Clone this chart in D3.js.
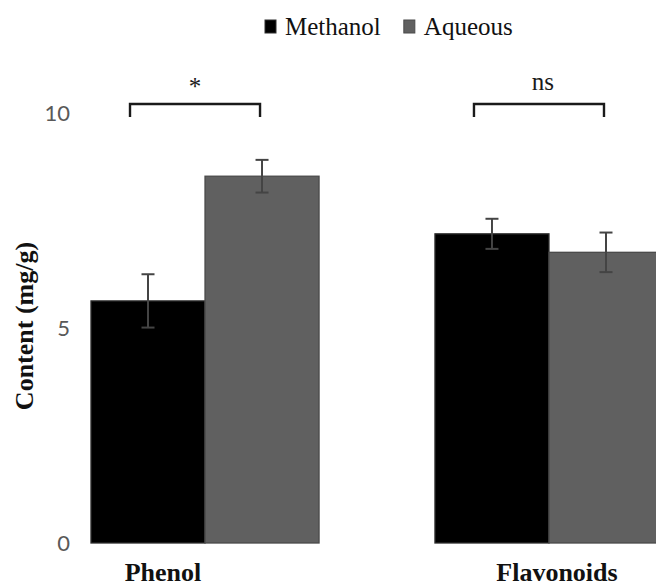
<!DOCTYPE html>
<html>
<head>
<meta charset="utf-8">
<script src="https://cdn.jsdelivr.net/npm/d3@7"></script>
<style>
  html, body { margin: 0; padding: 0; background: #fff; }
  svg { display: block; }
</style>
</head>
<body>
<svg id="chart" width="656" height="587"></svg>
<script>
// Extract content by solvent (mean and standard error)
const categories = ["Phenol", "Flavonoids"];
const seriesNames = ["Methanol", "Aqueous"];
const methanolValues = [5.63, 7.19];
const aqueousValues = [8.53, 6.76];
const methanolErrors = [0.62, 0.35];
const aqueousErrors = [0.38, 0.46];
const significance = ["*", "ns"];
const yTicks = [0, 5, 10];
const yTitle = "Content (mg/g)";

const serif = "'Liberation Serif', 'Times New Roman', serif";
const colors = { Methanol: "#000000", Aqueous: "#606060" };
const outlines = { Methanol: "#2e2e2e", Aqueous: "#4a4a4a" };

const svg = d3.select("#chart");

const y = d3.scaleLinear().domain([0, 10]).range([543, 113]);
const x0 = d3.scaleBand().domain(categories).range([33, 721])
  .paddingInner(0.337).paddingOuter(0.1686);
const x1 = d3.scaleBand().domain(seriesNames).range([0, x0.bandwidth()]);

const rows = categories.map((c, i) => ({
  category: c,
  sig: significance[i],
  bars: [
    { series: "Methanol", value: methanolValues[i], err: methanolErrors[i] },
    { series: "Aqueous", value: aqueousValues[i], err: aqueousErrors[i] }
  ]
}));

// Y axis: labels only, no line or tick marks
const yAxis = svg.append("g")
  .attr("transform", "translate(73,0)")
  .call(d3.axisLeft(y).tickValues(yTicks).tickSize(0).tickPadding(3));
yAxis.select(".domain").remove();
yAxis.selectAll("text")
  .attr("font-family", "Lato, 'Open Sans', sans-serif")
  .attr("font-size", 22)
  .attr("fill", "#595959");

svg.append("text")
  .attr("transform", "translate(33,326) rotate(-90)")
  .attr("text-anchor", "middle")
  .attr("font-family", serif)
  .attr("font-weight", "bold")
  .attr("font-size", 26)
  .attr("fill", "#111")
  .text(yTitle);

// Grouped bars
const groups = svg.selectAll("g.group").data(rows).join("g")
  .attr("class", "group")
  .attr("transform", d => `translate(${x0(d.category)},0)`);

groups.selectAll("rect").data(d => d.bars).join("rect")
  .attr("x", d => x1(d.series))
  .attr("y", d => y(d.value))
  .attr("width", x1.bandwidth())
  .attr("height", d => y(0) - y(d.value))
  .attr("fill", d => colors[d.series])
  .attr("stroke", d => outlines[d.series])
  .attr("stroke-width", 1.3);

// Error bars
const capHalf = 6.5;
const eb = groups.selectAll("g.err").data(d => d.bars).join("g").attr("class", "err")
  .attr("stroke", "#444")
  .attr("stroke-width", 2);
eb.append("line")
  .attr("x1", d => x1(d.series) + x1.bandwidth() / 2)
  .attr("x2", d => x1(d.series) + x1.bandwidth() / 2)
  .attr("y1", d => y(d.value + d.err))
  .attr("y2", d => y(d.value - d.err));
eb.append("line")
  .attr("x1", d => x1(d.series) + x1.bandwidth() / 2 - capHalf)
  .attr("x2", d => x1(d.series) + x1.bandwidth() / 2 + capHalf)
  .attr("y1", d => y(d.value + d.err))
  .attr("y2", d => y(d.value + d.err));
eb.append("line")
  .attr("x1", d => x1(d.series) + x1.bandwidth() / 2 - capHalf)
  .attr("x2", d => x1(d.series) + x1.bandwidth() / 2 + capHalf)
  .attr("y1", d => y(d.value - d.err))
  .attr("y2", d => y(d.value - d.err));

// Significance brackets above each pair
const bracketTop = y(10) - 9;
const bracketDrop = 13;
groups.each(function(d) {
  const g = d3.select(this);
  const xl = x1("Methanol") + x1.bandwidth() / 2 - 18;
  const xr = x1("Aqueous") + x1.bandwidth() / 2 - 2;
  g.append("path")
    .attr("d", `M${xl},${bracketTop + bracketDrop}V${bracketTop}H${xr}V${bracketTop + bracketDrop}`)
    .attr("fill", "none")
    .attr("stroke", "#1a1a1a")
    .attr("stroke-width", 2.4);
  g.append("text")
    .attr("x", (xl + xr) / 2 + (d.sig === "ns" ? 4 : 0))
    .attr("y", d.sig === "*" ? 95 : 90)
    .attr("text-anchor", "middle")
    .attr("font-family", serif)
    .attr("font-size", 25)
    .attr("fill", "#1a1a1a")
    .text(d.sig);
});

// Category labels
const labelNudge = { Phenol: -42, Flavonoids: 8 };
svg.selectAll("text.cat").data(categories).join("text")
  .attr("class", "cat")
  .attr("x", c => x0(c) + x0.bandwidth() / 2 + labelNudge[c])
  .attr("y", 581)
  .attr("text-anchor", "middle")
  .attr("font-family", serif)
  .attr("font-weight", "bold")
  .attr("font-size", 26)
  .attr("fill", "#111")
  .text(c => c);

// Legend
const legend = svg.append("g").attr("transform", "translate(265,0)");
let lx = 0;
seriesNames.forEach(s => {
  const item = legend.append("g").attr("transform", `translate(${lx},0)`);
  item.append("rect")
    .attr("x", 0).attr("y", 20)
    .attr("width", 11).attr("height", 13)
    .attr("fill", colors[s])
    .attr("stroke", outlines[s])
    .attr("stroke-width", 1);
  const t = item.append("text")
    .attr("x", 20).attr("y", 35)
    .attr("font-family", serif)
    .attr("font-size", 25)
    .attr("fill", "#111")
    .text(s);
  lx += 20 + t.node().getComputedTextLength() + 23;
});
</script>
</body>
</html>
